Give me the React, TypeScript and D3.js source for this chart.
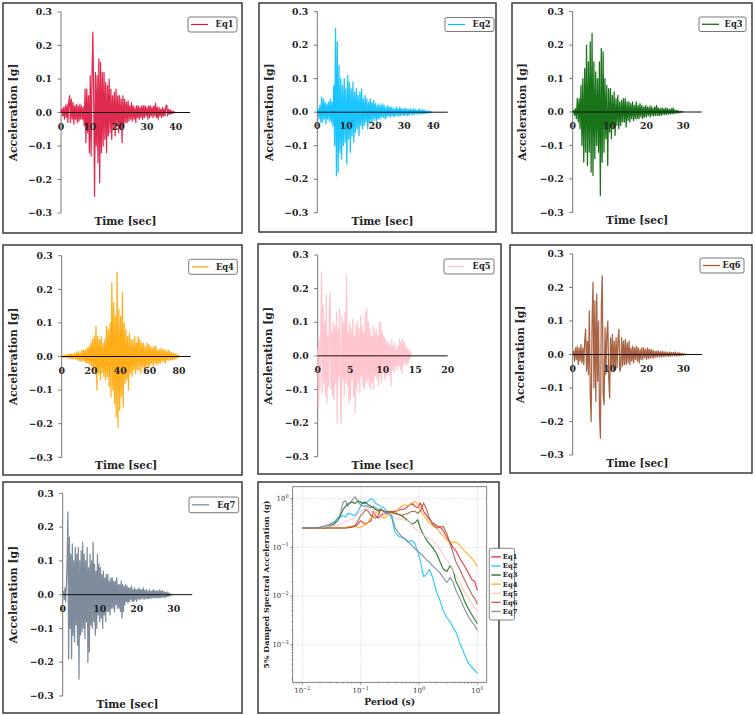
import React from "react";
import * as d3 from "d3";

// ---------- record names and colours ----------
const EQ_NAMES = ["Eq1", "Eq2", "Eq3", "Eq4", "Eq5", "Eq6", "Eq7"];
const EQ_COLORS = ["#DC143C", "#00BFFF", "#006400", "#FFA500", "#FFC0CB", "#A0522D", "#708090"];

// ---------- acceleration records [g], sampled every *_DT seconds ----------
const EQ1_DT = 0.3;
const EQ1_ACC = [
  0, 0.01, -0.01, 0.015, -0.02, 0.02, -0.015, 0.025, -0.03, 0.03,
  0.05, -0.03, 0.04, -0.02, 0.03, -0.035, 0.02, -0.02, 0.025, -0.03,
  0.02, -0.025, 0.025, -0.02, 0.02, -0.02, 0.015, -0.04, 0.07, -0.09,
  0.07, -0.06, 0.05, -0.12, 0.11, -0.13, 0.1, 0.24, 0.05, -0.25,
  0.12, -0.1, 0.11, -0.15, 0.16, -0.21, 0.15, -0.12, 0.12, -0.1,
  0.12, -0.08, 0.09, -0.12, 0.08, -0.07, 0.1, -0.06, 0.07, -0.08,
  0.05, -0.05, 0.06, -0.07, 0.07, -0.04, 0.05, -0.06, 0.05, -0.05,
  0.04, -0.09, 0.05, -0.04, 0.04, -0.03, 0.03, -0.03, 0.035, -0.025,
  0.02, -0.02, 0.03, -0.025, 0.02, -0.02, 0.015, -0.03, 0.02, -0.015,
  0.02, -0.02, 0.015, -0.015, 0.02, -0.02, 0.02, -0.015, 0.02, -0.01,
  0.015, -0.02, 0.02, -0.015, 0.02, -0.01, 0.015, -0.015, 0.02, -0.01,
  0.028, -0.015, 0.015, -0.02, 0.015, -0.01, 0.01, -0.015, 0.015, -0.01,
  0.01, -0.01, 0.02, 0.022, -0.01, 0.01, -0.005, 0.008, -0.005, 0.005,
  -0.003, 0.003, 0,
];

const EQ2_DT = 0.3;
const EQ2_ACC = [
  0, 0.01, -0.02, 0.02, -0.03, 0.045, -0.03, 0.04, -0.02, 0.03,
  -0.035, 0.025, -0.02, 0.03, -0.025, 0.04, -0.03, 0.03, -0.04, 0.08,
  -0.1, 0.25, -0.19, 0.21, -0.18, 0.14, -0.12, 0.1, -0.14, 0.08,
  -0.1, 0.1, -0.09, 0.07, -0.155, 0.11, -0.08, 0.09, -0.12, 0.07,
  -0.07, 0.09, -0.09, 0.06, -0.06, 0.07, -0.05, 0.05, -0.07, 0.06,
  -0.04, 0.07, -0.05, 0.04, -0.04, 0.05, -0.03, 0.04, -0.05, 0.03,
  -0.03, 0.04, -0.03, 0.03, -0.025, 0.035, -0.02, 0.025, -0.03, 0.02,
  -0.02, 0.025, -0.02, 0.02, -0.015, 0.025, -0.015, 0.02, -0.02, 0.015,
  -0.015, 0.02, -0.01, 0.015, -0.015, 0.015, -0.01, 0.012, -0.015, 0.01,
  -0.01, 0.015, -0.01, 0.01, -0.012, 0.015, -0.01, 0.01, -0.008, 0.01,
  -0.01, 0.012, -0.008, 0.01, -0.01, 0.008, -0.008, 0.01, -0.006, 0.008,
  -0.008, 0.01, -0.006, 0.008, -0.006, 0.006, -0.005, 0.01, -0.006, 0.006,
  -0.005, 0.008, -0.004, 0.006, -0.004, 0.004, -0.003, 0.004, -0.002, 0.003,
  -0.002, 0.001, 0,
];

const EQ3_DT = 0.25;
const EQ3_ACC = [
  0, 0.005, -0.01, 0.01, -0.02, 0.04, -0.03, 0.04, -0.05, 0.08,
  -0.1, 0.1, -0.15, 0.13, -0.12, 0.2, -0.16, 0.15, -0.12, 0.21,
  -0.18, 0.235, -0.19, 0.15, -0.14, 0.12, -0.1, 0.1, -0.12, 0.15,
  -0.25, 0.19, -0.15, 0.18, -0.12, 0.1, -0.08, 0.08, -0.16, 0.07,
  -0.06, 0.07, -0.08, 0.05, -0.05, 0.06, -0.07, 0.04, -0.04, 0.05,
  -0.05, 0.03, -0.04, 0.035, -0.03, 0.04, -0.03, 0.04, -0.045, 0.03,
  -0.025, 0.03, -0.03, 0.025, -0.02, 0.03, -0.025, 0.02, -0.02, 0.03,
  -0.02, 0.02, -0.02, 0.025, -0.015, 0.02, -0.02, 0.015, -0.015, 0.02,
  -0.015, 0.015, -0.01, 0.015, -0.015, 0.018, -0.01, 0.012, -0.012, 0.015,
  -0.01, 0.02, -0.01, 0.012, -0.01, 0.01, -0.01, 0.012, -0.008, 0.01,
  -0.008, 0.012, -0.008, 0.01, -0.006, 0.008, -0.006, 0.01, -0.006, 0.012,
  -0.005, 0.006, -0.004, 0.005, -0.003, 0.003, -0.002, 0.002, -0.001, 0.001,
  0,
];

const EQ4_DT = 0.6;
const EQ4_ACC = [
  0, 0.002, -0.003, 0.004, -0.003, 0.005, -0.004, 0.006, -0.005, 0.006,
  -0.006, 0.008, -0.007, 0.008, -0.006, 0.01, -0.008, 0.012, -0.01, 0.015,
  -0.012, 0.01, -0.015, 0.018, -0.012, 0.02, -0.015, 0.018, -0.02, 0.025,
  -0.02, 0.03, -0.025, 0.04, -0.03, 0.05, -0.04, 0.06, -0.05, 0.09,
  -0.1, 0.06, -0.05, 0.05, -0.07, 0.06, -0.05, 0.04, -0.06, 0.05,
  -0.07, 0.09, -0.06, 0.08, -0.09, 0.1, -0.12, 0.22, -0.1, 0.16,
  -0.14, 0.12, -0.18, 0.25, -0.21, 0.14, -0.16, 0.12, -0.12, 0.19,
  -0.15, 0.1, -0.08, 0.08, -0.07, 0.06, -0.1, 0.07, -0.05, 0.05,
  -0.06, 0.05, -0.04, 0.06, -0.05, 0.04, -0.04, 0.06, -0.04, 0.05,
  -0.05, 0.04, -0.03, 0.04, -0.05, 0.03, -0.03, 0.04, -0.03, 0.035,
  -0.03, 0.03, -0.02, 0.025, -0.03, 0.03, -0.02, 0.03, -0.025, 0.02,
  -0.02, 0.02, -0.02, 0.025, -0.015, 0.02, -0.015, 0.02, -0.02, 0.015,
  -0.01, 0.02, -0.012, 0.015, -0.01, 0.012, -0.01, 0.01, -0.008, 0.008,
  -0.006, 0.006, -0.004, 0.004, 0,
];

const EQ5_DT = 0.12;
const EQ5_ACC = [
  0.02, -0.16, 0.05, -0.1, 0.08, 0.25, -0.11, 0.15, -0.08, 0.1,
  -0.12, 0.18, -0.14, 0.06, -0.09, 0.13, 0.19, -0.1, 0.07, -0.12,
  0.1, -0.13, 0.09, -0.08, 0.13, -0.2, 0.08, -0.06, 0.14, -0.1,
  -0.2, 0.12, -0.07, 0.1, -0.12, 0.13, -0.08, 0.24, -0.09, 0.07,
  -0.14, 0.1, -0.13, 0.08, -0.07, 0.11, -0.12, 0.06, -0.17, 0.09,
  -0.1, 0.1, -0.08, 0.08, -0.11, 0.12, -0.06, 0.09, -0.09, 0.07,
  -0.1, 0.13, -0.08, 0.14, -0.07, 0.1, -0.09, 0.08, -0.1, 0.06,
  -0.08, 0.09, -0.1, 0.07, -0.06, 0.08, -0.07, 0.06, -0.09, 0.1,
  -0.06, 0.1, -0.08, 0.07, -0.05, 0.06, -0.07, 0.05, -0.06, 0.04,
  -0.05, 0.04, -0.06, 0.03, -0.09, 0.05, -0.04, 0.03, -0.05, 0.04,
  -0.03, 0.02, -0.04, 0.03, -0.03, 0.05, -0.04, 0.04, -0.05, 0.05,
  -0.03, 0.04, -0.02, 0.03, -0.03, 0.02, -0.02, 0.02, -0.01, 0.01,
  0,
];

const EQ6_DT = 0.25;
const EQ6_ACC = [
  0, 0.01, -0.02, 0.02, -0.015, 0.025, -0.03, 0.02, -0.02, 0.03,
  -0.025, 0.02, -0.03, 0.04, 0.075, -0.05, 0.04, -0.06, 0.13, -0.12,
  -0.2, 0.1, 0.215, -0.1, 0.16, -0.14, 0.18, -0.08, 0.1, -0.18,
  -0.25, 0.14, 0.235, -0.12, -0.15, 0.08, -0.06, 0.06, 0.1, -0.07,
  -0.13, 0.05, -0.04, 0.06, -0.05, 0.04, -0.045, 0.05, -0.04, 0.04,
  0.075, -0.05, -0.04, 0.05, -0.035, 0.04, -0.03, 0.045, -0.03, 0.035,
  -0.025, 0.04, -0.03, 0.02, -0.02, 0.025, -0.025, 0.02, -0.015, 0.025,
  -0.02, 0.02, -0.025, 0.015, -0.015, 0.02, -0.015, 0.02, -0.01, 0.015,
  -0.015, 0.02, -0.012, 0.015, -0.01, 0.015, -0.01, 0.012, -0.01, 0.01,
  -0.008, 0.01, -0.008, 0.01, -0.006, 0.008, -0.008, 0.01, -0.006, 0.008,
  -0.006, 0.008, -0.005, 0.006, -0.006, 0.008, -0.005, 0.006, -0.004, 0.006,
  -0.004, 0.008, -0.005, 0.005, -0.004, 0.006, -0.004, 0.004, -0.003, 0.003,
  -0.002, 0.002, -0.001, 0.001, 0,
];

const EQ7_DT = 0.2;
const EQ7_ACC = [
  0, 0.01, -0.015, 0.02, -0.02, 0.03, 0.1, 0.245, -0.19, 0.17,
  -0.1, 0.12, -0.19, 0.15, -0.12, 0.1, -0.14, 0.14, -0.09, 0.12,
  -0.15, 0.14, -0.25, 0.1, -0.12, 0.13, -0.11, 0.155, -0.1, 0.12,
  -0.13, 0.1, -0.08, 0.14, -0.2, 0.08, -0.17, 0.12, -0.09, 0.1,
  -0.1, 0.155, -0.08, 0.09, -0.12, 0.07, -0.1, 0.12, -0.06, 0.09,
  -0.08, 0.08, -0.07, 0.06, -0.1, 0.07, -0.06, 0.05, -0.08, 0.06,
  -0.05, 0.06, -0.05, 0.04, -0.06, 0.05, -0.04, 0.05, -0.04, 0.04,
  -0.05, 0.04, -0.03, 0.05, -0.04, 0.03, -0.04, 0.03, -0.05, 0.04,
  -0.07, 0.03, -0.05, 0.025, -0.03, 0.03, -0.02, 0.025, -0.025, 0.02,
  -0.02, 0.02, -0.015, 0.025, -0.02, 0.015, -0.02, 0.02, -0.015, 0.015,
  -0.02, 0.015, -0.012, 0.02, -0.015, 0.015, -0.012, 0.015, -0.01, 0.02,
  -0.015, 0.012, -0.01, 0.015, -0.012, 0.01, -0.012, 0.015, -0.01, 0.01,
  -0.01, 0.012, -0.01, 0.015, -0.008, 0.01, -0.01, 0.012, -0.008, 0.01,
  -0.01, 0.015, -0.008, 0.01, -0.008, 0.012, -0.006, 0.008, -0.01, 0.006,
  -0.006, 0.008, -0.005, 0.005, -0.004, 0.003, -0.002, 0.001, 0,
];

const ACC_SERIES = [EQ1_ACC, EQ2_ACC, EQ3_ACC, EQ4_ACC, EQ5_ACC, EQ6_ACC, EQ7_ACC];
const ACC_DT = [EQ1_DT, EQ2_DT, EQ3_DT, EQ4_DT, EQ5_DT, EQ6_DT, EQ7_DT];

// ---------- tick values ----------
const ACC_TICKS = [-0.3, -0.2, -0.1, 0, 0.1, 0.2, 0.3];
const TIME_TICKS_40 = [0, 10, 20, 30, 40];
const TIME_TICKS_30 = [0, 10, 20, 30];
const TIME_TICKS_80 = [0, 20, 40, 60, 80];
const TIME_TICKS_20 = [0, 5, 10, 15, 20];
const PERIOD_DECADES = [-2, -1, 0, 1];
const SA_DECADES = [-3, -2, -1, 0];

// ---------- 5% damped response spectra [g] ----------
const PERIODS = [
  0.01, 0.015, 0.02, 0.025, 0.03, 0.035, 0.04, 0.045, 0.05, 0.055,
  0.06, 0.07, 0.08, 0.09, 0.1, 0.11, 0.12, 0.135, 0.15, 0.165,
  0.18, 0.2, 0.22, 0.25, 0.28, 0.3, 0.34, 0.39, 0.44, 0.5,
  0.57, 0.65, 0.75, 0.85, 0.95, 1.05, 1.2, 1.35, 1.5, 1.7,
  2.0, 2.3, 2.6, 3.0, 3.4, 3.8, 4.3, 5.0, 6.0, 7.0,
  8.0, 9.0, 10.0,
];
const SA_EQ1 = [
  0.25, 0.25, 0.25, 0.25, 0.25, 0.25, 0.25, 0.25, 0.25, 0.25,
  0.26, 0.26, 0.27, 0.3, 0.35, 0.32, 0.3, 0.33, 0.35, 0.55,
  0.45, 0.4, 0.45, 0.5, 0.48, 0.5, 0.55, 0.55, 0.58, 0.6,
  0.62, 0.7, 0.8, 0.7, 0.65, 0.82, 0.55, 0.45, 0.38, 0.32,
  0.28, 0.26, 0.22, 0.16, 0.13, 0.1, 0.085, 0.06, 0.042, 0.03,
  0.022, 0.02, 0.013,
];
const SA_EQ2 = [
  0.25, 0.25, 0.25, 0.26, 0.29, 0.33, 0.4, 0.42, 0.45, 0.42,
  0.5, 0.48, 0.45, 0.55, 0.7, 0.85, 0.8, 0.9, 1.0, 0.95,
  0.8, 0.75, 0.7, 0.65, 0.55, 0.5, 0.4, 0.2, 0.17, 0.16,
  0.15, 0.13, 0.14, 0.12, 0.08, 0.055, 0.025, 0.028, 0.035, 0.025,
  0.012, 0.008, 0.005, 0.0036, 0.003, 0.0023, 0.0018, 0.0011, 0.00065, 0.00042,
  0.00035, 0.0003, 0.00026,
];
const SA_EQ3 = [
  0.25, 0.25, 0.25, 0.25, 0.27, 0.3, 0.35, 0.45, 0.6, 0.7,
  0.78, 0.85, 0.8, 0.9, 0.85, 0.8, 0.85, 0.75, 0.7, 0.65,
  0.6, 0.55, 0.6, 0.55, 0.5, 0.55, 0.52, 0.5, 0.48, 0.45,
  0.4, 0.35, 0.3, 0.32, 0.37, 0.25, 0.18, 0.14, 0.12, 0.1,
  0.075, 0.05, 0.036, 0.032, 0.042, 0.035, 0.02, 0.014, 0.008, 0.0055,
  0.0042, 0.0033, 0.0027,
];
const SA_EQ4 = [
  0.25, 0.25, 0.25, 0.25, 0.25, 0.25, 0.25, 0.25, 0.25, 0.25,
  0.26, 0.27, 0.28, 0.25, 0.26, 0.28, 0.29, 0.33, 0.4, 0.45,
  0.5, 0.55, 0.45, 0.4, 0.42, 0.55, 0.5, 0.5, 0.6, 0.7,
  0.75, 0.72, 0.8, 0.88, 0.8, 0.6, 0.45, 0.38, 0.32, 0.28,
  0.25, 0.2, 0.17, 0.14, 0.13, 0.125, 0.13, 0.11, 0.085, 0.07,
  0.06, 0.05, 0.04,
];
const SA_EQ5 = [
  0.25, 0.25, 0.25, 0.26, 0.27, 0.28, 0.29, 0.3, 0.32, 0.34,
  0.35, 0.38, 0.42, 0.5, 0.55, 0.6, 0.65, 0.62, 0.55, 0.5,
  0.5, 0.5, 0.55, 0.5, 0.48, 0.5, 0.45, 0.4, 0.38, 0.38,
  0.36, 0.35, 0.3, 0.25, 0.22, 0.2, 0.18, 0.16, 0.15, 0.14,
  0.11, 0.09, 0.07, 0.055, 0.045, 0.035, 0.026, 0.019, 0.012, 0.009,
  0.007, 0.0058, 0.0048,
];
const SA_EQ6 = [
  0.25, 0.25, 0.25, 0.25, 0.25, 0.25, 0.25, 0.25, 0.25, 0.25,
  0.25, 0.26, 0.28, 0.35, 0.45, 0.5, 0.6, 0.55, 0.45, 0.42,
  0.4, 0.45, 0.6, 0.55, 0.55, 0.55, 0.52, 0.5, 0.48, 0.45,
  0.48, 0.5, 0.55, 0.55, 0.5, 0.55, 0.82, 0.6, 0.4, 0.3,
  0.25, 0.26, 0.27, 0.19, 0.12, 0.08, 0.05, 0.035, 0.022, 0.015,
  0.011, 0.009, 0.0068,
];
const SA_EQ7 = [
  0.25, 0.25, 0.26, 0.28, 0.3, 0.33, 0.35, 0.5, 0.85, 0.9,
  0.7, 0.9, 1.1, 0.85, 0.75, 0.7, 0.72, 0.68, 0.65, 0.7,
  0.65, 0.6, 0.62, 0.55, 0.5, 0.52, 0.45, 0.25, 0.2, 0.17,
  0.15, 0.13, 0.11, 0.095, 0.085, 0.075, 0.065, 0.055, 0.05, 0.042,
  0.035, 0.03, 0.024, 0.019, 0.024, 0.02, 0.013, 0.009, 0.0055, 0.0038,
  0.003, 0.0025, 0.002,
];
const SA_SERIES = [SA_EQ1, SA_EQ2, SA_EQ3, SA_EQ4, SA_EQ5, SA_EQ6, SA_EQ7];

// ---------- layout (pixel geometry of each subplot) ----------
type TimeLayout = {
  frame: [number, number, number, number];
  x0: number; xEnd: number; yTop: number; yBot: number;
  xMax: number; ticks: number[];
  legend: [number, number, number, number];
};
const TIME_LAYOUT: TimeLayout[] = [
  { frame: [3, 3, 242, 233], x0: 61, xEnd: 190, yTop: 12, yBot: 213, xMax: 45, ticks: TIME_TICKS_40, legend: [188, 17, 237, 32] },
  { frame: [259, 3, 496, 232], x0: 317.3, xEnd: 447.7, yTop: 11.7, yBot: 212.7, xMax: 45, ticks: TIME_TICKS_40, legend: [445, 17.5, 494, 31.5] },
  { frame: [512, 3, 752, 233], x0: 572.7, xEnd: 701.7, yTop: 11.7, yBot: 212.3, xMax: 35, ticks: TIME_TICKS_30, legend: [699, 17, 746, 31.5] },
  { frame: [3, 245, 242, 475], x0: 61.7, xEnd: 190.7, yTop: 255.7, yBot: 457.3, xMax: 88, ticks: TIME_TICKS_80, legend: [188.7, 259.3, 237.3, 274.3] },
  { frame: [258, 244, 501, 474], x0: 317.7, xEnd: 447.7, yTop: 255, yBot: 456.7, xMax: 20, ticks: TIME_TICKS_20, legend: [444, 259, 494, 274] },
  { frame: [510, 245, 752, 473], x0: 572.7, xEnd: 702, yTop: 254, yBot: 455, xMax: 35, ticks: TIME_TICKS_30, legend: [700, 258, 744, 273] },
  { frame: [3, 482, 242, 713], x0: 62.7, xEnd: 192.3, yTop: 493.3, yBot: 696, xMax: 35, ticks: TIME_TICKS_30, legend: [189, 497, 238.7, 512.7] },
];
const SPEC_FRAME = [258, 482, 499, 713];
const SPEC_PLOT = { left: 292.7, top: 486.7, right: 486.7, bottom: 682.3 };
const SPEC_LEGEND = [489.3, 548.3, 514.5, 620];

const SERIF = "'DejaVu Serif', 'Liberation Serif', serif";

function TimePanel({ idx }: { idx: number }) {
  const L = TIME_LAYOUT[idx];
  const values = ACC_SERIES[idx];
  const dt = ACC_DT[idx];
  const color = EQ_COLORS[idx];
  const xs = d3.scaleLinear().domain([0, L.xMax]).range([L.x0, L.xEnd]);
  const ys = d3.scaleLinear().domain([-0.3, 0.3]).range([L.yBot, L.yTop]);
  const path = d3
    .line<number>()
    .x((_, i) => xs(i * dt))
    .y((d) => ys(d))(values) as string;
  const [fx0, fy0, fx1, fy1] = L.frame;
  const [lx0, ly0, lx1, ly1] = L.legend;
  const ly = (ly0 + ly1) / 2;
  const y0 = ys(0);
  return (
    <g>
      <rect x={fx0} y={fy0} width={fx1 - fx0} height={fy1 - fy0} fill="#fff" stroke="#3a3a3a" strokeWidth={1.5} />
      {/* left spine with outward ticks */}
      <line x1={L.x0} x2={L.x0} y1={ys(-0.3)} y2={ys(0.3)} stroke="#777" strokeWidth={1} />
      {ACC_TICKS.map((t) => (
        <g key={t}>
          <line x1={L.x0 - 3.5} x2={L.x0} y1={ys(t)} y2={ys(t)} stroke="#777" strokeWidth={1} />
          <text x={L.x0 - 9} y={ys(t)} dy="0.35em" textAnchor="end" fontFamily={SERIF} fontWeight="bold" fontSize={9.3} fill="#222">
            {t < 0 ? "\u2212" + Math.abs(t).toFixed(1) : t.toFixed(1)}
          </text>
        </g>
      ))}
      <path d={path} fill="none" stroke={color} strokeWidth={1.25} strokeOpacity={0.9} strokeLinejoin="round" />
      {/* zero line */}
      <line x1={L.x0} x2={L.xEnd} y1={y0} y2={y0} stroke="#111" strokeWidth={1} />
      {L.ticks.map((t) => (
        <text key={t} x={xs(t)} y={y0 + 17} textAnchor="middle" fontFamily={SERIF} fontWeight="bold" fontSize={9.3} fill="#222">
          {t}
        </text>
      ))}
      <text
        transform={`translate(${fx0 + 14},${(L.yTop + L.yBot) / 2}) rotate(-90)`}
        textAnchor="middle"
        fontFamily={SERIF}
        fontWeight="bold"
        fontSize={10.8}
        fill="#222"
      >
        Acceleration [g]
      </text>
      <text x={(L.x0 + L.xEnd) / 2} y={L.yBot + 12} textAnchor="middle" fontFamily={SERIF} fontWeight="bold" fontSize={10.5} fill="#222">
        Time [sec]
      </text>
      {/* legend */}
      <rect x={lx0} y={ly0} width={lx1 - lx0} height={ly1 - ly0} rx={2} fill="#fff" fillOpacity={0.8} stroke="#555" strokeWidth={0.8} />
      <line x1={lx0 + 3} x2={lx0 + 20} y1={ly} y2={ly} stroke={color} strokeWidth={1.2} />
      <text x={lx1 - 3.5} y={ly} dy="0.35em" textAnchor="end" fontFamily={SERIF} fontWeight="bold" fontSize={8.3} fill="#222">
        {EQ_NAMES[idx]}
      </text>
    </g>
  );
}

function SpectrumPanel() {
  const P = SPEC_PLOT;
  const xs = d3.scaleLog().domain([Math.pow(10, -2.165), Math.pow(10, 1.16)]).range([P.left, P.right]);
  const ys = d3.scaleLog().domain([Math.pow(10, -3.77), Math.pow(10, 0.246)]).range([P.bottom, P.top]);
  const [xd0, xd1] = xs.domain();
  const [yd0, yd1] = ys.domain();
  const minorX: number[] = [];
  for (let e = -3; e <= 1; e++) for (let m = 2; m <= 9; m++) {
    const v = m * Math.pow(10, e);
    if (v > xd0 && v < xd1) minorX.push(v);
  }
  const minorY: number[] = [];
  for (let e = -4; e <= 0; e++) for (let m = 2; m <= 9; m++) {
    const v = m * Math.pow(10, e);
    if (v > yd0 && v < yd1) minorY.push(v);
  }
  const [fx0, fy0, fx1, fy1] = SPEC_FRAME;
  const [lx0, ly0, lx1, ly1] = SPEC_LEGEND;
  const line = d3
    .line<number>()
    .x((_, i) => xs(PERIODS[i]))
    .y((d) => ys(d));
  const rowH = (ly1 - ly0 - 8) / 7;
  return (
    <g>
      <rect x={fx0} y={fy0} width={fx1 - fx0} height={fy1 - fy0} fill="#fff" stroke="#3a3a3a" strokeWidth={1.5} />
      {/* grid */}
      {PERIOD_DECADES.map((e) => (
        <line key={"gx" + e} x1={xs(Math.pow(10, e))} x2={xs(Math.pow(10, e))} y1={P.top} y2={P.bottom} stroke="#cfcfcf" strokeWidth={0.7} strokeDasharray="1.5,1.5" />
      ))}
      {SA_DECADES.map((e) => (
        <line key={"gy" + e} x1={P.left} x2={P.right} y1={ys(Math.pow(10, e))} y2={ys(Math.pow(10, e))} stroke="#cfcfcf" strokeWidth={0.7} strokeDasharray="1.5,1.5" />
      ))}
      {SA_SERIES.map((s, i) => (
        <path key={i} d={line(s) as string} fill="none" stroke={EQ_COLORS[i]} strokeWidth={1.2} strokeOpacity={0.8} strokeLinejoin="round" />
      ))}
      <rect x={P.left} y={P.top} width={P.right - P.left} height={P.bottom - P.top} fill="none" stroke="#666" strokeWidth={0.8} />
      {/* ticks */}
      {minorX.map((v) => (
        <line key={"mx" + v} x1={xs(v)} x2={xs(v)} y1={P.bottom} y2={P.bottom + 1.5} stroke="#666" strokeWidth={0.5} />
      ))}
      {minorY.map((v) => (
        <line key={"my" + v} x1={P.left - 1.5} x2={P.left} y1={ys(v)} y2={ys(v)} stroke="#666" strokeWidth={0.5} />
      ))}
      {PERIOD_DECADES.map((e) => (
        <g key={"tx" + e}>
          <line x1={xs(Math.pow(10, e))} x2={xs(Math.pow(10, e))} y1={P.bottom} y2={P.bottom + 2.5} stroke="#666" strokeWidth={0.7} />
          <text x={xs(Math.pow(10, e))} y={P.bottom + 10.5} textAnchor="middle" fontFamily={SERIF} fontSize={7} fill="#333">
            10<tspan dy={-3.2} fontSize={5}>{e < 0 ? "\u2212" + Math.abs(e) : e}</tspan>
          </text>
        </g>
      ))}
      {SA_DECADES.map((e) => (
        <g key={"ty" + e}>
          <line x1={P.left - 2.5} x2={P.left} y1={ys(Math.pow(10, e))} y2={ys(Math.pow(10, e))} stroke="#666" strokeWidth={0.7} />
          <text x={P.left - 4} y={ys(Math.pow(10, e)) + 2.2} textAnchor="end" fontFamily={SERIF} fontSize={7} fill="#333">
            10<tspan dy={-3.2} fontSize={5}>{e < 0 ? "\u2212" + Math.abs(e) : e}</tspan>
          </text>
        </g>
      ))}
      <text x={(P.left + P.right) / 2} y={P.bottom + 23} textAnchor="middle" fontFamily={SERIF} fontWeight="bold" fontSize={9.3} fill="#222">
        Period (s)
      </text>
      <text
        transform={`translate(${fx0 + 10.5},${(P.top + P.bottom) / 2}) rotate(-90)`}
        textAnchor="middle"
        fontFamily={SERIF}
        fontWeight="bold"
        fontSize={8}
        fill="#222"
      >
        5% Damped Spectral Acceleration (g)
      </text>
      {/* legend */}
      <rect x={lx0} y={ly0} width={lx1 - lx0} height={ly1 - ly0} rx={2} fill="#fff" stroke="#666" strokeWidth={0.8} />
      {EQ_NAMES.map((n, i) => {
        const y = ly0 + 4 + rowH * (i + 0.5);
        return (
          <g key={n}>
            <line x1={lx0 + 2} x2={lx0 + 11.5} y1={y} y2={y} stroke={EQ_COLORS[i]} strokeWidth={1.5} strokeOpacity={0.8} />
            <text x={lx0 + 13.5} y={y} dy="0.35em" fontFamily={SERIF} fontWeight="bold" fontSize={6.8} fill="#222">
              {n}
            </text>
          </g>
        );
      })}
    </g>
  );
}

export default function App() {
  return (
    <svg width={755} height={715} style={{ position: "absolute", left: 0, top: 0, background: "#fff" }}>
      <rect width={755} height={715} fill="#fff" />
      {TIME_LAYOUT.map((_, i) => (
        <TimePanel key={i} idx={i} />
      ))}
      <SpectrumPanel />
    </svg>
  );
}
